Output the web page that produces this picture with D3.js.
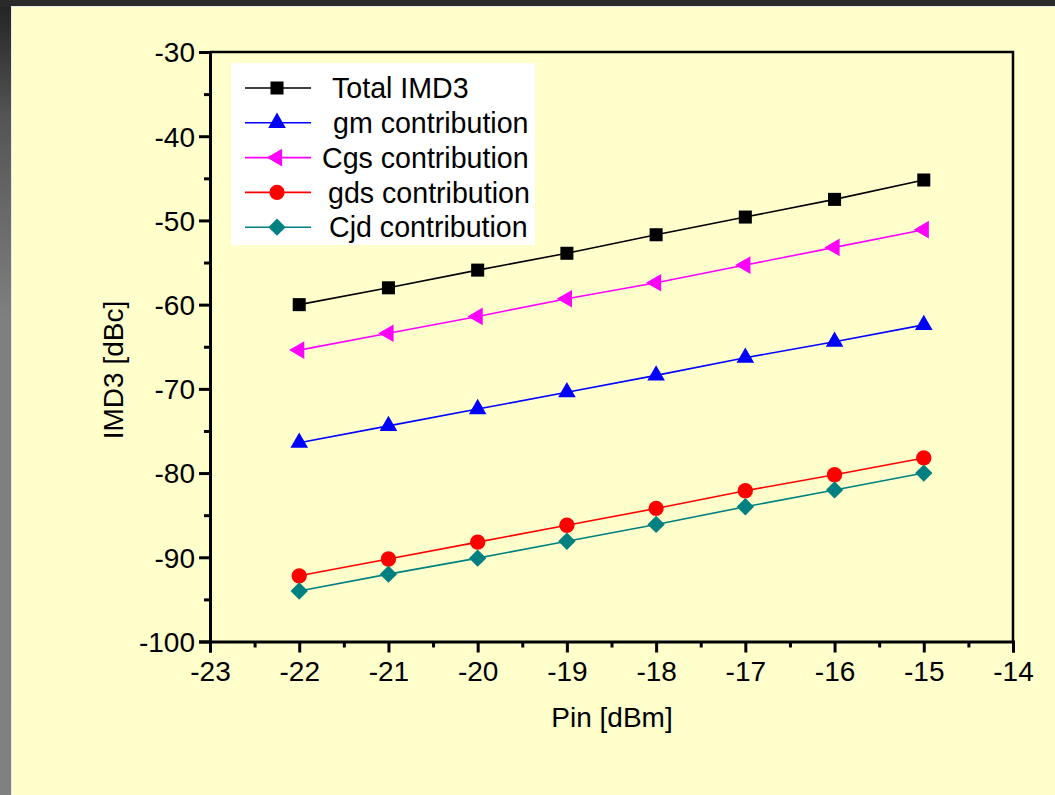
<!DOCTYPE html>
<html>
<head>
<meta charset="utf-8">
<script src="https://cdn.jsdelivr.net/npm/d3@7"></script>
<style>
	body { margin: 0; background: #ffffcc; }
	svg { display: block; font-family: "Liberation Sans", Arial, sans-serif; }
</style>
</head>
<body>
<div id="svg"></div>
<script>
const width = 1055,
			height = 795;

// data
const pin = [-22, -21, -20, -19, -18, -17, -16, -15];
const totalImd3 = [-60.0, -58.0, -55.9, -53.9, -51.7, -49.6, -47.5, -45.2];
const gmContrib = [-76.4, -74.4, -72.4, -70.4, -68.4, -66.3, -64.4, -62.4];
const cgsContrib = [-65.4, -63.4, -61.4, -59.3, -57.4, -55.3, -53.2, -51.1];
const gdsContrib = [-92.2, -90.2, -88.2, -86.2, -84.2, -82.1, -80.2, -78.2];
const cjdContrib = [-94.0, -92.0, -90.1, -88.1, -86.1, -84.0, -82.0, -80.0];
const seriesNames = ["Total IMD3", "gm contribution", "Cgs contribution", "gds contribution", "Cjd contribution"];
const xTicks = [-23, -22, -21, -20, -19, -18, -17, -16, -15, -14];
const yTicks = [-100, -90, -80, -70, -60, -50, -40, -30];

const series = [
	{ name: seriesNames[0], values: totalImd3, color: "#000000", symbol: d3.symbolSquare, size: 170, rotate: 0 },
	{ name: seriesNames[1], values: gmContrib, color: "#0000ff", symbol: d3.symbolTriangle, size: 135, rotate: 0 },
	{ name: seriesNames[2], values: cgsContrib, color: "#ff00ff", symbol: d3.symbolTriangle, size: 135, rotate: -90 },
	{ name: seriesNames[3], values: gdsContrib, color: "#ff0000", symbol: d3.symbolCircle, size: 185, rotate: 0 },
	{ name: seriesNames[4], values: cjdContrib, color: "#008080", symbol: d3.symbolSquare, size: 150, rotate: 45 }
];

const margin = { left: 210, right: 1013, top: 52, bottom: 641.5 };

const svg = d3.select("#svg")
	.append("svg")
		.attr("width", width)
		.attr("height", height);

// slide background + dark edges
const edge = svg.append("defs").append("linearGradient")
		.attr("id", "edge")
		.attr("x1", 0).attr("y1", 0).attr("x2", 0).attr("y2", 1);
edge.append("stop").attr("offset", "0").attr("stop-color", "#222");
edge.append("stop").attr("offset", "0.15").attr("stop-color", "#555");
edge.append("stop").attr("offset", "0.4").attr("stop-color", "#7f7f7f");
edge.append("stop").attr("offset", "1").attr("stop-color", "#808080");

svg.append("rect")
		.attr("width", width)
		.attr("height", height)
		.attr("fill", "url(#edge)");

svg.append("rect")
		.attr("x", 0)
		.attr("width", width)
		.attr("height", 7)
		.attr("fill", "#2a2a2a");

svg.append("rect")
		.attr("x", 11)
		.attr("y", 6)
		.attr("width", width - 11)
		.attr("height", height - 6)
		.attr("fill", "#e8e8e8");

svg.append("rect")
		.attr("x", 12)
		.attr("y", 7)
		.attr("width", width - 12)
		.attr("height", height - 7)
		.attr("fill", "#ffffcc");

const x = d3.scaleLinear()
		.domain([-23, -14])
		.range([margin.left, margin.right]);

const y = d3.scaleLinear()
		.domain([-100, -30])
		.range([margin.bottom, margin.top]);

const g = svg.append("g");

// frame (top and right)
g.append("path")
		.attr("d", `M${margin.left},${margin.top}H${margin.right}V${margin.bottom}`)
		.attr("fill", "none")
		.attr("stroke", "#000")
		.attr("stroke-width", 2.5);

const minus = d => d < 0 ? "-" + Math.abs(d) : d;

// x axis
const xAxis = g.append("g")
		.attr("transform", `translate(0, ${margin.bottom})`)
		.call(d3.axisBottom(x).tickValues(xTicks).tickSize(11).tickPadding(9).tickFormat(minus));

g.append("g")
		.attr("transform", `translate(0, ${margin.bottom})`)
		.call(d3.axisBottom(x).tickValues(d3.range(-22.5, -14, 1)).tickSize(6).tickFormat(""))
		.call(a => a.select(".domain").remove());

// y axis
const yAxis = g.append("g")
		.attr("transform", `translate(${margin.left}, 0)`)
		.call(d3.axisLeft(y).tickValues(yTicks).tickSize(11).tickPadding(4).tickFormat(minus));

g.append("g")
		.attr("transform", `translate(${margin.left}, 0)`)
		.call(d3.axisLeft(y).tickValues(d3.range(-95, -30, 10)).tickSize(6).tickFormat(""))
		.call(a => a.select(".domain").remove());

g.selectAll(".domain")
		.attr("stroke", "#000")
		.attr("stroke-width", 3);

g.selectAll(".tick line")
		.attr("stroke", "#000")
		.attr("stroke-width", 3);

g.selectAll(".tick text")
		.attr("fill", "#000")
		.style("font-size", "28px");

yAxis.selectAll(".tick text")
		.attr("dy", "0.35em");

// axis titles
svg.append("text")
		.attr("x", (margin.left + margin.right) / 2 + 0.5)
		.attr("y", 727)
		.attr("text-anchor", "middle")
		.style("font-size", "28px")
		.text("Pin [dBm]");

svg.append("text")
		.attr("transform", "translate(123, 370) rotate(-90)")
		.attr("text-anchor", "middle")
		.style("font-size", "28px")
		.text("IMD3 [dBc]");

// series
const line = d3.line()
		.x((d, i) => x(pin[i]))
		.y(d => y(d));

const sg = g.append("g")
	.selectAll("g")
	.data(series)
	.enter()
	.append("g");

sg.append("path")
		.attr("d", d => line(d.values))
		.attr("fill", "none")
		.attr("stroke", d => d.color)
		.attr("stroke-width", 1.6);

sg.selectAll(".pt")
	.data(d => d.values.map((v, i) => ({ v: v, i: i, s: d })))
	.enter()
	.append("path")
		.attr("class", "pt")
		.attr("transform", d => `translate(${x(pin[d.i])}, ${y(d.v)}) rotate(${d.s.rotate})`)
		.attr("d", d => d3.symbol().type(d.s.symbol).size(d.s.size)())
		.attr("fill", d => d.s.color);

// legend
const legend = svg.append("g")
		.attr("transform", "translate(231, 63)");

legend.append("rect")
		.attr("width", 304)
		.attr("height", 182)
		.attr("fill", "#fff");

// label offsets as they sit in the original legend
const labelX = [101, 102, 91, 97, 98];

const item = legend.selectAll(".item")
	.data(series)
	.enter()
	.append("g")
		.attr("class", "item")
		.attr("transform", (d, i) => `translate(0, ${25 + i * 34.8})`);

item.append("line")
		.attr("x1", 14)
		.attr("x2", 80)
		.attr("stroke", d => d.color)
		.attr("stroke-width", 1.6);

item.append("path")
		.attr("transform", d => `translate(46, 0) rotate(${d.rotate})`)
		.attr("d", d => d3.symbol().type(d.symbol).size(d.size)())
		.attr("fill", d => d.color);

item.append("text")
		.attr("x", (d, i) => labelX[i])
		.attr("dy", "0.36em")
		.style("font-size", "28.6px")
		.text(d => d.name);
</script>
</body>
</html>
